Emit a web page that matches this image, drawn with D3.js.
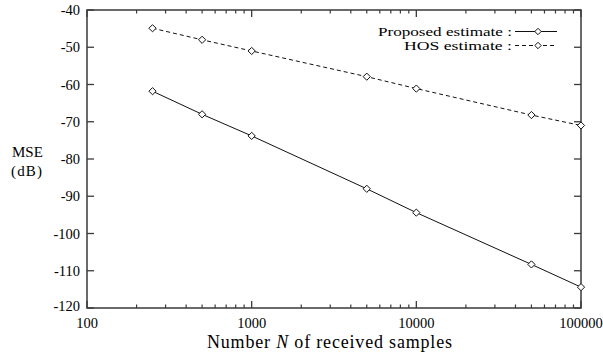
<!DOCTYPE html>
<html>
<head>
<meta charset="utf-8">
<script src="https://cdn.jsdelivr.net/npm/d3@7"></script>
<style>
  html, body { margin: 0; padding: 0; background: #fff; }
  svg { display: block; }
  text { font-family: "Liberation Serif", "Times New Roman", serif; fill: #000; }
</style>
</head>
<body>
<svg id="chart" width="603" height="355"></svg>
<script>
// ---- data ----
const samples = [250, 500, 1000, 5000, 10000, 50000, 100000];
const proposedMSE = [-61.8, -68.0, -73.8, -88.0, -94.4, -108.3, -114.4];
const hosMSE = [-44.9, -48.0, -51.0, -57.9, -61.1, -68.2, -71.0];
const seriesNames = ["Proposed estimate :", "HOS estimate :"];
const xTickValues = [100, 1000, 10000, 100000];
const yTickValues = [-40, -50, -60, -70, -80, -90, -100, -110, -120];

// ---- layout ----
const svg = d3.select("#chart");
const L = 87, R = 581, T = 10, B = 308;

const x = d3.scaleLog().domain([100, 100000]).range([L, R]);
const y = d3.scaleLinear().domain([-120, -40]).range([B, T]);

const axisColor = "#3a3a3a";

// minor log ticks
const minorX = [];
for (let d = 100; d < 100000; d *= 10) {
  for (let k = 2; k <= 9; k++) minorX.push(d * k);
}

const g = svg.append("g");

// frame
g.append("rect")
  .attr("x", L).attr("y", T).attr("width", R - L).attr("height", B - T)
  .attr("fill", "none").attr("stroke", axisColor).attr("stroke-width", 1.5);

// y ticks (left and right, inward)
yTickValues.forEach(v => {
  const yy = y(v);
  g.append("line").attr("x1", L).attr("x2", L + 7).attr("y1", yy).attr("y2", yy)
    .attr("stroke", axisColor).attr("stroke-width", 1.3);
  g.append("line").attr("x1", R - 7).attr("x2", R).attr("y1", yy).attr("y2", yy)
    .attr("stroke", axisColor).attr("stroke-width", 1.3);
  g.append("text").attr("x", 80).attr("y", yy + (v === -120 ? 3 : 5))
    .attr("text-anchor", "end").attr("font-size", 14.5).text(v);
});

// x major ticks
xTickValues.forEach(v => {
  const xx = x(v);
  g.append("line").attr("x1", xx).attr("x2", xx).attr("y1", B).attr("y2", B - 7)
    .attr("stroke", axisColor).attr("stroke-width", 1.3);
  g.append("line").attr("x1", xx).attr("x2", xx).attr("y1", T).attr("y2", T + 7)
    .attr("stroke", axisColor).attr("stroke-width", 1.3);
  g.append("text").attr("x", xx).attr("y", 327.5)
    .attr("text-anchor", "middle").attr("font-size", 14.5).text(v);
});
// x minor ticks
minorX.forEach(v => {
  const xx = x(v);
  g.append("line").attr("x1", xx).attr("x2", xx).attr("y1", B).attr("y2", B - 3.5)
    .attr("stroke", axisColor).attr("stroke-width", 1.2);
  g.append("line").attr("x1", xx).attr("x2", xx).attr("y1", T).attr("y2", T + 3.5)
    .attr("stroke", axisColor).attr("stroke-width", 1.2);
});

// axis titles
const xt = g.append("text").attr("x", 207).attr("y", 348).attr("font-size", 18)
  .attr("textLength", 245).attr("lengthAdjust", "spacing");
xt.append("tspan").text("Number ");
xt.append("tspan").attr("font-style", "italic").text("N");
xt.append("tspan").text(" of received samples");

g.append("text").attr("x", 12).attr("y", 157).attr("font-size", 15).text("MSE");
g.append("text").attr("x", 11).attr("y", 176).attr("font-size", 15)
  .attr("textLength", 31).attr("lengthAdjust", "spacing").text("(dB)");

// series
const series = [
  { name: seriesNames[0], vals: proposedMSE, dash: null },
  { name: seriesNames[1], vals: hosMSE, dash: "4,3" }
];

const line = d3.line().x(d => x(d[0])).y(d => y(d[1]));
const diamond = (cx, cy, r) => `M${cx},${cy - r}L${cx + r},${cy}L${cx},${cy + r}L${cx - r},${cy}Z`;

series.forEach((s, i) => {
  const pts = samples.map((n, j) => [n, s.vals[j]]);
  g.append("path").attr("d", line(pts)).attr("fill", "none")
    .attr("stroke", "#111").attr("stroke-width", 1)
    .attr("stroke-dasharray", s.dash);
  g.selectAll(null).data(pts).enter().append("path")
    .attr("d", d => diamond(x(d[0]), y(d[1]), 3.6))
    .attr("fill", "#fff").attr("stroke", "#111").attr("stroke-width", 1);

  // legend
  const ly = 31.5 + i * 14;
  const t = g.append("text").attr("x", 512).attr("y", ly + 4.5).attr("text-anchor", "end")
    .attr("font-size", 13).text(s.name);
  t.attr("textLength", i === 0 ? 134 : 108).attr("lengthAdjust", "spacingAndGlyphs");
  g.append("line").attr("x1", 515).attr("x2", 557).attr("y1", ly).attr("y2", ly)
    .attr("stroke", "#111").attr("stroke-width", 1).attr("stroke-dasharray", s.dash);
  g.append("path").attr("d", diamond(538, ly, 3.2))
    .attr("fill", "#fff").attr("stroke", "#111").attr("stroke-width", 1);
});
</script>
</body>
</html>
